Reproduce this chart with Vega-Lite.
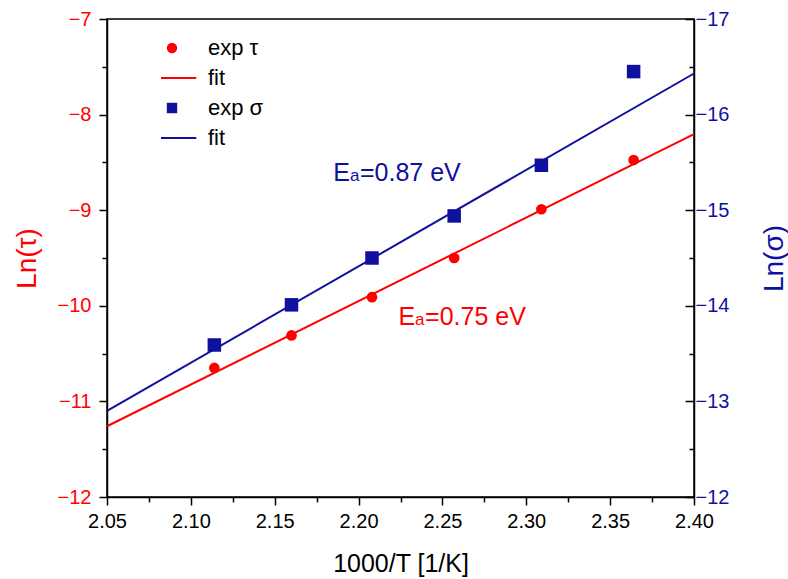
{
  "$schema": "https://vega.github.io/schema/vega-lite/v6.json",
  "width": 587,
  "height": 478,
  "autosize": "none",
  "padding": {"left": 107, "top": 19, "right": 94, "bottom": 82},
  "background": "white",
  "config": {
    "view": {"stroke": "black", "strokeWidth": 1.5},
    "font": "Liberation Sans",
    "axis": {"grid": false, "labelFont": "Liberation Sans", "titleFont": "Liberation Sans", "titleFontWeight": "normal", "domainColor": "black", "domainWidth": 1.5, "tickColor": "black", "tickWidth": 1.5, "labelOverlap": false, "labelFlush": false}
  },
  "datasets": {
    "tau": [
      {"x": 2.114, "y": -10.65, "series": "exp τ"},
      {"x": 2.160, "y": -10.31, "series": "exp τ"},
      {"x": 2.208, "y": -9.91, "series": "exp τ"},
      {"x": 2.257, "y": -9.50, "series": "exp τ"},
      {"x": 2.309, "y": -8.99, "series": "exp τ"},
      {"x": 2.364, "y": -8.475, "series": "exp τ"}
    ],
    "tauFit": [
      {"x": 2.05, "y": -11.26, "series": "fit τ"},
      {"x": 2.40, "y": -8.205, "series": "fit τ"}
    ],
    "sigma": [
      {"x": 2.114, "y": -13.59, "series": "exp σ"},
      {"x": 2.160, "y": -14.01, "series": "exp σ"},
      {"x": 2.208, "y": -14.50, "series": "exp σ"},
      {"x": 2.257, "y": -14.94, "series": "exp σ"},
      {"x": 2.309, "y": -15.47, "series": "exp σ"},
      {"x": 2.364, "y": -16.45, "series": "exp σ"}
    ],
    "sigmaFit": [
      {"x": 2.05, "y": -12.90, "series": "fit σ"},
      {"x": 2.40, "y": -16.43, "series": "fit σ"}
    ],
    "annotTau": [{"x": 2.2337, "y": -10.20, "E": "E", "sub": "a", "rest": "=0.75 eV"}],
    "annotSigma": [{"x": 2.1949, "y": -15.305, "E": "E", "sub": "a", "rest": "=0.87 eV"}]
  },
  "encoding": {
    "x": {
      "field": "x", "type": "quantitative",
      "scale": {"domain": [2.05, 2.40], "nice": false, "zero": false},
      "axis": {
        "title": "1000/T [1/K]", "titleFontSize": 25, "titleColor": "black", "titlePadding": 20,
        "values": [2.05, 2.075, 2.1, 2.125, 2.15, 2.175, 2.2, 2.225, 2.25, 2.275, 2.3, 2.325, 2.35, 2.375, 2.4],
        "labelExpr": "abs(round(datum.value*40)) % 2 == 0 ? format(datum.value, '.2f') : ''",
        "labelFontSize": 20, "labelColor": "black", "labelPadding": 6,
        "tickSize": {"condition": {"test": "abs(round(datum.value*40)) % 2 == 0", "value": 8}, "value": 5}
      }
    }
  },
  "layer": [
    {
      "encoding": {
        "y": {
          "field": "y", "type": "quantitative",
          "scale": {"domain": [-12, -7], "nice": false, "zero": false},
          "axis": {
            "orient": "left", "title": "Ln(τ)", "titleColor": "#ff0000", "titleFontSize": 28, "titlePadding": 16,
            "values": [-12, -11.5, -11, -10.5, -10, -9.5, -9, -8.5, -8, -7.5, -7],
            "format": ".0f",
            "labelExpr": "datum.value % 1 == 0 ? format(datum.value, '.0f') : ''",
            "labelFontSize": 20, "labelColor": "#ff0000", "labelPadding": 8,
            "tickSize": {"condition": {"test": "datum.value % 1 == 0", "value": 8}, "value": 5}
          }
        }
      },
      "layer": [
        {
          "data": {"name": "tauFit"},
          "mark": {"type": "line", "strokeWidth": 2},
          "encoding": {
            "color": {"field": "series", "type": "nominal"}
          }
        },
        {
          "data": {"name": "tau"},
          "mark": {"type": "point", "filled": true, "opacity": 1},
          "encoding": {
            "color": {
              "field": "series", "type": "nominal",
              "scale": {"domain": ["exp τ", "fit τ", "exp σ", "fit σ"], "range": ["#ff0000", "#ff0000", "#10109f", "#10109f"]},
              "legend": {
                "orient": "none", "legendX": 54, "legendY": 18, "title": null, "padding": 0,
                "labelFontSize": 22, "labelFont": "Liberation Sans", "labelColor": "black",
                "labelOffset": 25, "rowPadding": 8, "clipHeight": 22,
                "symbolSize": 70, "symbolStrokeWidth": 2, "symbolOpacity": 1,
                "labelExpr": "indexof(datum.label, 'fit') == 0 ? 'fit' : datum.label"
              }
            },
            "shape": {
              "field": "series", "type": "nominal",
              "scale": {"domain": ["exp τ", "fit τ", "exp σ", "fit σ"], "range": ["circle", "M-5.8,0L5.8,0", "square", "M-5.8,0L5.8,0"]}
            },
            "size": {
              "field": "series", "type": "nominal",
              "scale": {"type": "ordinal", "domain": ["exp τ", "fit τ", "exp σ", "fit σ"], "range": [115, 2500, 95, 2500]},
              "legend": null
            }
          }
        },
        {
          "data": {"name": "annotTau"},
          "mark": {"type": "text", "align": "right", "baseline": "alphabetic", "fontSize": 25, "color": "#ff0000", "font": "Liberation Sans"},
          "encoding": {"text": {"field": "E"}}
        },
        {
          "data": {"name": "annotTau"},
          "mark": {"type": "text", "align": "left", "baseline": "alphabetic", "fontSize": 17, "color": "#ff0000", "font": "Liberation Sans"},
          "encoding": {"text": {"field": "sub"}}
        },
        {
          "data": {"name": "annotTau"},
          "mark": {"type": "text", "align": "left", "baseline": "alphabetic", "fontSize": 25, "dx": 10, "color": "#ff0000", "font": "Liberation Sans"},
          "encoding": {"text": {"field": "rest"}}
        }
      ]
    },
    {
      "encoding": {
        "y": {
          "field": "y", "type": "quantitative",
          "scale": {"domain": [-17, -12], "nice": false, "zero": false, "reverse": true},
          "axis": {
            "orient": "right", "title": "Ln(σ)", "titleColor": "#10109f", "titleFontSize": 28, "titlePadding": 60, "titleAngle": 270,
            "values": [-17, -16.5, -16, -15.5, -15, -14.5, -14, -13.5, -13, -12.5, -12],
            "format": ".0f",
            "labelExpr": "datum.value % 1 == 0 ? format(datum.value, '.0f') : ''",
            "labelFontSize": 20, "labelColor": "#10109f", "labelPadding": 10,
            "tickSize": {"condition": {"test": "datum.value % 1 == 0", "value": -9}, "value": -5}
          }
        }
      },
      "layer": [
        {
          "data": {"name": "sigmaFit"},
          "mark": {"type": "line", "strokeWidth": 2},
          "encoding": {
            "color": {"field": "series", "type": "nominal"}
          }
        },
        {
          "data": {"name": "sigma"},
          "mark": {"type": "point", "filled": true, "opacity": 1},
          "encoding": {
            "color": {"field": "series", "type": "nominal"},
            "shape": {"field": "series", "type": "nominal"},
            "size": {"field": "series", "type": "nominal", "legend": null}
          }
        },
        {
          "data": {"name": "annotSigma"},
          "mark": {"type": "text", "align": "right", "baseline": "alphabetic", "fontSize": 25, "color": "#10109f", "font": "Liberation Sans"},
          "encoding": {"text": {"field": "E"}}
        },
        {
          "data": {"name": "annotSigma"},
          "mark": {"type": "text", "align": "left", "baseline": "alphabetic", "fontSize": 17, "color": "#10109f", "font": "Liberation Sans"},
          "encoding": {"text": {"field": "sub"}}
        },
        {
          "data": {"name": "annotSigma"},
          "mark": {"type": "text", "align": "left", "baseline": "alphabetic", "fontSize": 25, "dx": 10, "color": "#10109f", "font": "Liberation Sans"},
          "encoding": {"text": {"field": "rest"}}
        }
      ]
    }
  ],
  "resolve": {"scale": {"y": "independent"}}
}
